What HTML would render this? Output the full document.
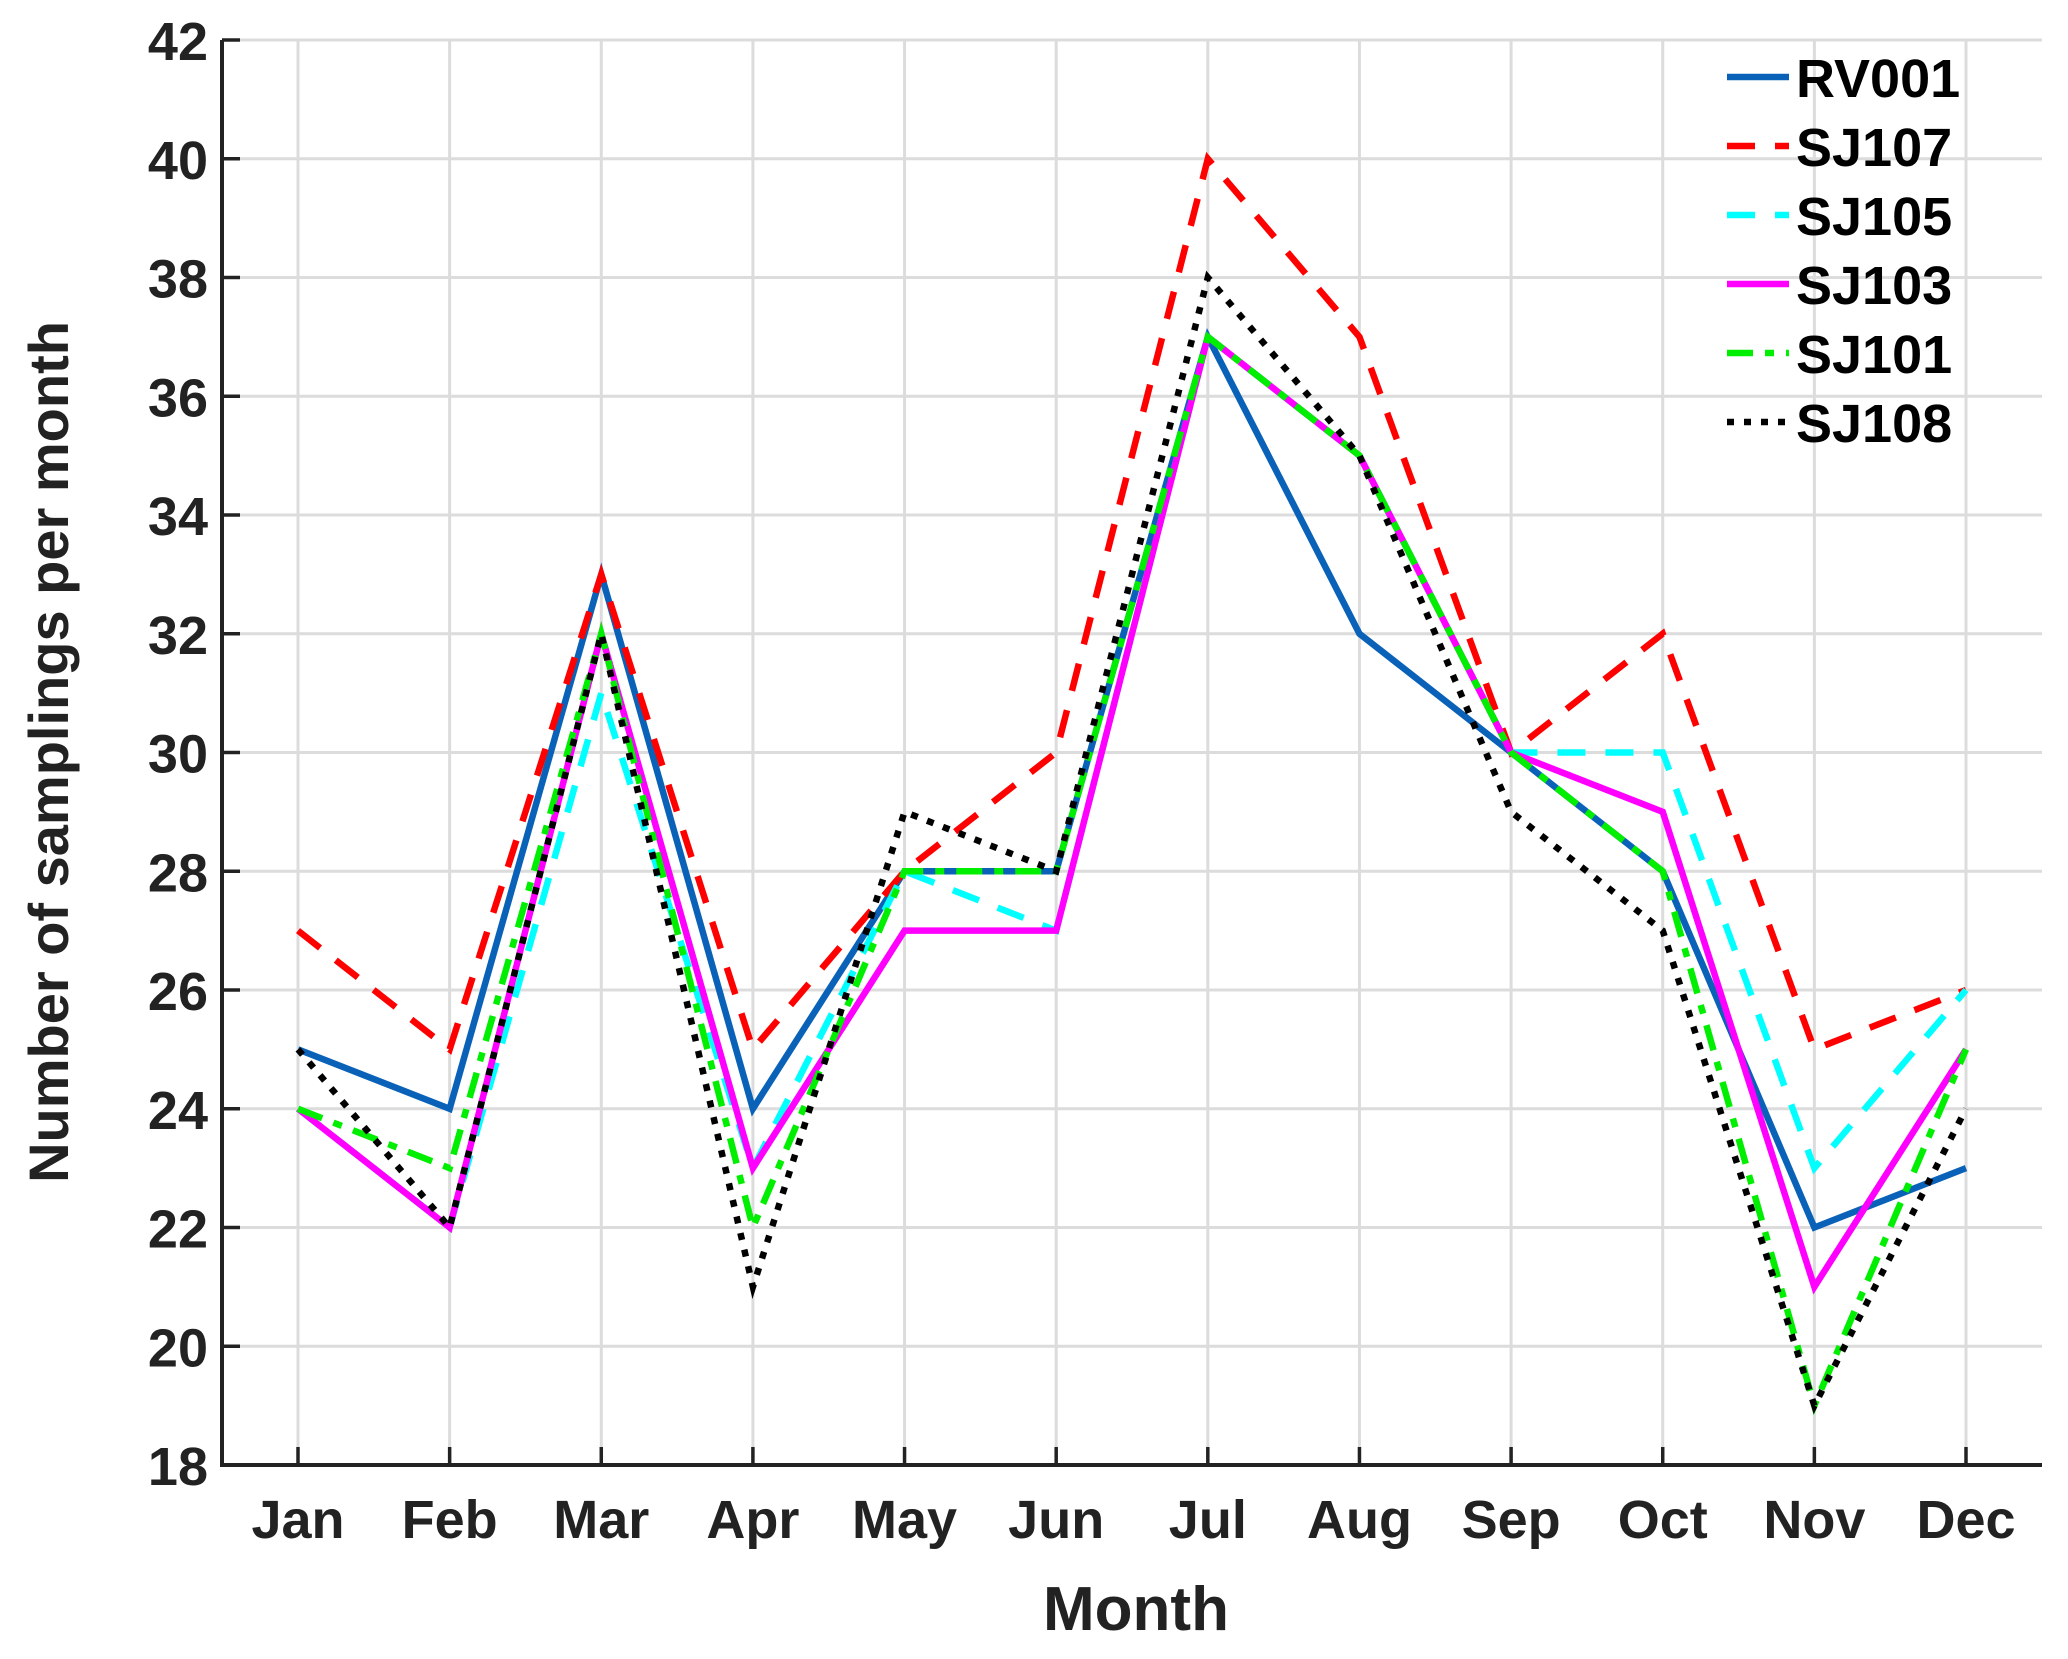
<!DOCTYPE html>
<html><head><meta charset="utf-8"><style>
html,body{margin:0;padding:0;background:#fff;}
svg text{font-family:"Liberation Sans",Arial,sans-serif;font-weight:bold;fill:#222;}
</style></head><body>
<svg id="chart" width="2068" height="1654" viewBox="0 0 2068 1654" xmlns="http://www.w3.org/2000/svg">
<g id="grid"></g>
<g id="series"></g>
<g id="axes"></g>
<g id="legend"></g>
<text x="1136" y="1630" font-size="62" text-anchor="middle">Month</text>
<text transform="translate(68,752) rotate(-90)" font-size="56" text-anchor="middle">Number of samplings per month</text>
</svg>
<script>
const months = ["Jan","Feb","Mar","Apr","May","Jun","Jul","Aug","Sep","Oct","Nov","Dec"];
const yTicks = [18,20,22,24,26,28,30,32,34,36,38,40,42];
const seriesNames = ["RV001","SJ107","SJ105","SJ103","SJ101","SJ108"];
const rv001 = [25,24,33,24,28,28,37,32,30,28,22,23];
const sj107 = [27,25,33,25,28,30,40,37,30,32,25,26];
const sj105 = [24,22,31,23,28,27,37,35,30,30,23,26];
const sj103 = [24,22,32,23,27,27,37,35,30,29,21,25];
const sj101 = [24,23,32,22,28,28,37,35,30,28,19,25];
const sj108 = [25,22,32,21,29,28,38,35,29,27,19,24];

const NS="http://www.w3.org/2000/svg";
const L=222,R=2042,T=40,B=1465,yMin=18,yMax=42;
const x = i => 298 + i*(1966-298)/11;
const y = v => B - (v-yMin)*(B-T)/(yMax-yMin);
function mk(tag,attrs,parent){const e=document.createElementNS(NS,tag);for(const k in attrs)e.setAttribute(k,attrs[k]);parent.appendChild(e);return e;}
const grid=document.getElementById('grid'),axes=document.getElementById('axes'),ser=document.getElementById('series'),leg=document.getElementById('legend');

months.forEach((m,i)=>{
  const g=mk('line',{x1:x(i),x2:x(i),y1:T,y2:B,stroke:'#dcdcdc','stroke-width':3},grid);
  
  
  const t=mk('line',{x1:x(i),x2:x(i),y1:B,y2:B-18,stroke:'#222','stroke-width':3.5},axes);
  
  
  const lb=mk('text',{x:x(i),y:1538,'font-size':54,'text-anchor':'middle'},axes);
  lb.textContent=m;
  
  
});
yTicks.forEach(v=>{
  const g=mk('line',{x1:L,x2:R,y1:y(v),y2:y(v),stroke:'#dcdcdc','stroke-width':3},grid);
  
  
  const t=mk('line',{x1:L,x2:L+18,y1:y(v),y2:y(v),stroke:'#222','stroke-width':3.5},axes);
  
  
  const lb=mk('text',{x:L-14,y:y(v)+20,'font-size':54,'text-anchor':'end'},axes);
  lb.textContent=v;
  
  
});
const ax=mk('path',{d:`M${L},${T} L${L},${B} L${R},${B}`,fill:'none',stroke:'#222','stroke-width':4},axes);



const data=[rv001,sj107,sj105,sj103,sj101,sj108];
const colors=['#0a62b8','#ff0000','#00ffff','#ff00ff','#00ee00','#000000'];
const dashes=['none','28 20','28 20','none','26 12 9 12','7 10'];
data.forEach((vals,s)=>{
  const d=vals.map((v,i)=>(i?'L':'M')+x(i)+','+y(v)).join(' ');
  const p=mk('path',{d:d,fill:'none',stroke:colors[s],'stroke-width':6.5,'stroke-dasharray':dashes[s],'stroke-linejoin':'miter'},ser);
  
  
  const cy=77+s*69;
  const ll=mk('line',{x1:1727,x2:1789,y1:cy,y2:cy,stroke:colors[s],'stroke-width':6.5,'stroke-dasharray':dashes[s]},leg);
  
  
  const lt=mk('text',{x:1796,y:cy+20,'font-size':54,fill:'#000'},leg);
  lt.style.fill='#000';
  lt.textContent=seriesNames[s];
  
  
});
</script>
</body></html>
